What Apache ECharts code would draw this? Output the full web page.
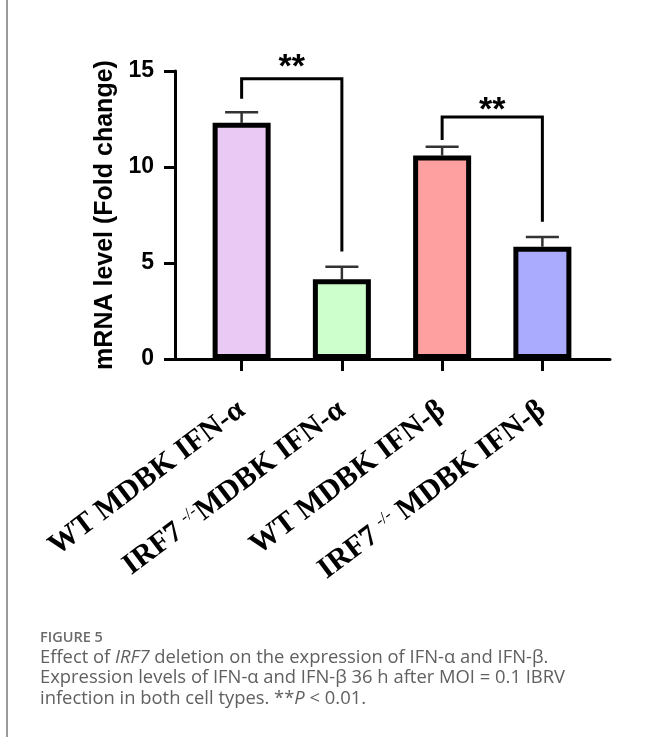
<!DOCTYPE html>
<html>
<head>
<meta charset="utf-8">
<script src="https://cdn.jsdelivr.net/npm/echarts@6/dist/echarts.min.js"></script>
<style>
  html, body { margin: 0; padding: 0; background: #fff; }
  #chart { width: 646px; height: 737px; }
</style>
</head>
<body>
<div id="chart"></div>
<script>
// ---- data ----
const categories = ['WT MDBK IFN-α', 'IRF7 -/-MDBK IFN-α', 'WT MDBK IFN-β', 'IRF7 -/- MDBK IFN-β'];
const meanValues = [12.3, 4.15, 10.6, 5.85];
const errorValues = [0.55, 0.65, 0.45, 0.5];
const barColors = ['#eac9f5', '#ccffcc', '#ffa0a0', '#aaaaff'];
const yMin = 0, yMax = 15, yInterval = 5;
const bracketPairs = [[0, 1], [2, 3]];
const bracketTops = [14.6, 12.6];
const bracketLeftEnds = [13.55, 11.4];
const bracketRightEnds = [5.6, 7.15];
const starLevels = [15.55, 13.3];
const starLabels = ['**', '**'];

const chart = echarts.init(document.getElementById('chart'), null, { renderer: 'canvas' });

function labelFormatter(v) {
  const m = v.match(/^(.*?)(-\/-)(.*)$/);
  if (m) return '{n|' + m[1] + '}{s|' + m[2] + '}{n|' + m[3] + '}';
  return '{n|' + v + '}';
}

const capStyle = { fontFamily: 'Open Sans', fontSize: 18.4, fill: '#606060' };

const option = {
  backgroundColor: '#ffffff',
  animation: false,
  grid: [
    { left: 175, right: 36, top: 71, bottom: 378, containLabel: false },
    { left: 191.5, right: 53.5, top: 71, bottom: 378, containLabel: false }
  ],
  xAxis: [
    {
      gridIndex: 0, type: 'value', min: 0, max: 1,
      axisLine: { show: true, onZero: false, lineStyle: { color: '#000', width: 3 } },
      axisTick: { show: false }, axisLabel: { show: false }, splitLine: { show: false }
    },
    {
      gridIndex: 1, type: 'category', data: categories,
      axisLine: { show: false },
      axisTick: { show: true, alignWithLabel: true, length: 12, lineStyle: { color: '#000', width: 3 } },
      axisLabel: {
        interval: 0, rotate: 37, margin: 48,
        formatter: labelFormatter,
        rich: {
          n: { fontFamily: 'Liberation Serif', fontWeight: 'bold', fontSize: 30, color: '#000' },
          s: { fontFamily: 'Liberation Serif', fontWeight: 'normal', fontSize: 17, color: '#000', verticalAlign: 'top' }
        }
      },
      splitLine: { show: false }
    }
  ],
  yAxis: [
    {
      gridIndex: 0, type: 'value', min: yMin, max: yMax, interval: yInterval,
      name: 'mRNA level (Fold change)', nameLocation: 'middle', nameGap: 57,
      nameTextStyle: { fontFamily: 'Liberation Sans', fontWeight: 'bold', fontSize: 25, color: '#000' },
      axisLine: { show: true, lineStyle: { color: '#000', width: 3 } },
      axisTick: { show: true, length: 11, lineStyle: { color: '#000', width: 3 } },
      axisLabel: { margin: 21, fontFamily: 'Liberation Sans', fontWeight: 'bold', fontSize: 23, color: '#000' },
      splitLine: { show: false }
    },
    {
      gridIndex: 1, type: 'value', min: yMin, max: yMax, interval: yInterval, show: false
    }
  ],
  series: [
    {
      type: 'bar', xAxisIndex: 1, yAxisIndex: 1, barWidth: 58,
      data: meanValues.map((v, i) => ({ value: v, itemStyle: { color: barColors[i] } })),
      itemStyle: { borderColor: '#000', borderWidth: 5 },
      z: 2
    },
    {
      type: 'custom', xAxisIndex: 1, yAxisIndex: 1, z: 1,
      data: meanValues.map((m, i) => [i, m, m + errorValues[i]]),
      encode: { x: 0, y: [1, 2] },
      renderItem: function (params, api) {
        const p0 = api.coord([api.value(0), api.value(1)]);
        const p1 = api.coord([api.value(0), api.value(2)]);
        const half = api.size([1, 0])[0] * 0.165;
        const st = { stroke: '#333', lineWidth: 2.5 };
        return {
          type: 'group',
          children: [
            { type: 'line', shape: { x1: p0[0], y1: p0[1], x2: p1[0], y2: p1[1] }, style: st },
            { type: 'line', shape: { x1: p1[0] - half, y1: p1[1], x2: p1[0] + half, y2: p1[1] }, style: st }
          ]
        };
      }
    },
    {
      type: 'custom', xAxisIndex: 1, yAxisIndex: 1, z: 3, clip: false,
      data: bracketPairs.map((p, i) => [p[0], p[1], bracketTops[i], bracketLeftEnds[i], bracketRightEnds[i], starLevels[i]]),
      encode: { x: [0, 1], y: [2, 3, 4, 5] },
      renderItem: function (params, api) {
        const i0 = api.value(0), i1 = api.value(1);
        const a = api.coord([i0, api.value(2)]);
        const b = api.coord([i1, api.value(2)]);
        const la = api.coord([i0, api.value(3)]);
        const rb = api.coord([i1, api.value(4)]);
        const sy = api.coord([i0, api.value(5)])[1];
        return {
          type: 'group',
          children: [
            { type: 'polyline', shape: { points: [la, a, b, rb] }, style: { stroke: '#000', lineWidth: 3, fill: null } },
            { type: 'text', x: (a[0] + b[0]) / 2, y: sy + 7,
              style: { text: starLabels[params.dataIndex], align: 'center', verticalAlign: 'middle',
                       fontFamily: 'Liberation Sans', fontWeight: 'bold', fontSize: 34, fill: '#000' } }
          ]
        };
      }
    }
  ],
  graphic: [
    { type: 'rect', left: 6, top: 0, shape: { width: 2, height: 737 }, style: { fill: '#9a9a9a' } },
    { type: 'text', left: 40, top: 630, style: { text: 'FIGURE 5', fontFamily: 'Open Sans', fontSize: 14.5, fontWeight: 600, fill: '#6b6b6b' } },
    { type: 'text', left: 40, top: 649, style: {
        text: '{r|Effect of }{i|IRF7}{r| deletion on the expression of IFN-α and IFN-β.}',
        rich: { r: capStyle, i: Object.assign({}, capStyle, { fontStyle: 'italic' }) } } },
    { type: 'text', left: 40, top: 669, style: Object.assign({
        text: 'Expression levels of IFN-α and IFN-β 36 h after MOI = 0.1 IBRV' }, capStyle) },
    { type: 'text', left: 40, top: 690, style: {
        text: '{r|infection in both cell types. **}{i|P}{r| < 0.01.}',
        rich: { r: capStyle, i: Object.assign({}, capStyle, { fontStyle: 'italic' }) } } }
  ]
};
chart.setOption(option);
</script>
</body>
</html>
